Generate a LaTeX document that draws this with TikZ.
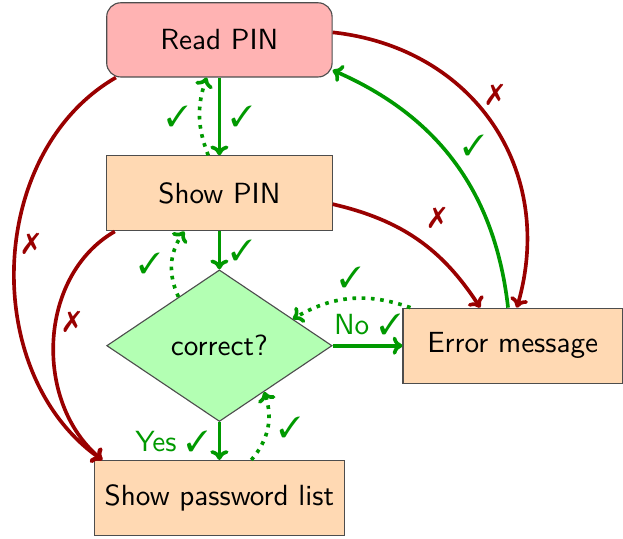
\documentclass[tikz,border=0pt]{standalone}
\usepackage{tikz}
\usepackage{pifont}
\usetikzlibrary{arrows.meta, positioning, shapes.geometric, calc}
\definecolor{okGreen}{HTML}{009900}
\definecolor{failRed}{HTML}{990000}
\definecolor{startPink}{HTML}{FFB3B3}
\definecolor{stepPeach}{HTML}{FFD9B3}
\definecolor{testGreen}{HTML}{B3FFB3}
\definecolor{borderGray}{HTML}{4D4D4D}
\newcommand{\okmark}{\ding{51}}
\newcommand{\failmark}{\ding{55}}
\tikzset{
  arrowOk/.style={-{To[length=3.5pt, width=6.5pt]}, okGreen, line width=1.3pt},
  arrowBack/.style={-{To[length=3.5pt, width=6.5pt]}, okGreen, line width=1.3pt, dotted},
  arrowFail/.style={-{To[length=3.5pt, width=6.5pt]}, failRed, line width=1.3pt},
  boxStart/.style={rectangle, rounded corners=5pt, draw=borderGray, fill=startPink,
                   minimum width=2.825cm, minimum height=0.93cm},
  boxStep/.style={rectangle, draw=borderGray, fill=stepPeach, minimum height=0.94cm},
  boxTest/.style={diamond, draw=borderGray, fill=testGreen, inner sep=0pt,
                  minimum width=2.825cm, minimum height=1.9cm},
  okLabel/.style={text=okGreen},
  failLabel/.style={text=failRed},
}
\begin{document}
\begin{tikzpicture}[font=\sffamily\fontsize{10.4pt}{12.5pt}\selectfont]
    \node[boxStart] (read) {Read PIN};
    \node[boxStep, minimum width=2.825cm, below=0.975cm of read] (show) {Show PIN};
    \node[boxTest, below=0.475cm of show] (cor) {correct?};
    \node[boxStep, minimum width=2.75cm, right=0.875cm of cor] (err) {Error message};
    \node[boxStep, minimum width=3.125cm, below=0.475cm of cor] (spl) {Show password list};
    \useasboundingbox ($(read.center)+(-2.75,0.5)$) rectangle ($(err.east |- spl.south)+(0,-0.025)$);

    % main path
    \draw[arrowOk] (read) -- node[okLabel, right] {\okmark} (show);
    \draw[arrowOk] (show) -- node[okLabel, right] {\okmark} (cor);
    \draw[arrowOk] (cor) -- node[okLabel, above] {No \okmark} (err);
    \draw[arrowOk] (cor) -- node[okLabel, left] {Yes \okmark} (spl);
    \draw[arrowOk] (err.97) to[bend right=30]
      node[okLabel, auto, swap, inner sep=2pt] {\okmark} (read.-15);

    % going back
    \draw[arrowBack] ([xshift=-0.14cm]show.north) to[bend left=20]
      node[okLabel, left] {\okmark} ([xshift=-0.16cm]read.south);
    \draw[arrowBack] (cor.130) to[bend left=30]
      node[okLabel, left] {\okmark} ([xshift=-0.44cm]show.south);
    \draw[arrowBack] ([xshift=0.1cm]err.north west) to[bend right=25]
      node[okLabel, above] {\okmark} (cor.20);
    \draw[arrowBack] ([xshift=0.4cm]spl.north) to[bend right=30]
      node[okLabel, right] {\okmark} (cor.-46);

    % failures
    \draw[arrowFail] (read) to[bend left=50, looseness=1.1]
      node[failLabel, auto, inner sep=1pt, pos=0.45] {\failmark} (err);
    \draw[arrowFail] (show) to[bend left=22] node[failLabel, auto] {\failmark} (err);
    \draw[arrowFail] (read.200) to[out=210, in=145]
      node[failLabel, auto, inner sep=1pt, pos=0.42] {\failmark} (spl.162);
    \draw[arrowFail] (show.200) to[out=210, in=140]
      node[failLabel, auto, inner sep=1pt, pos=0.37] {\failmark} (spl.162);
\end{tikzpicture}
\end{document}
